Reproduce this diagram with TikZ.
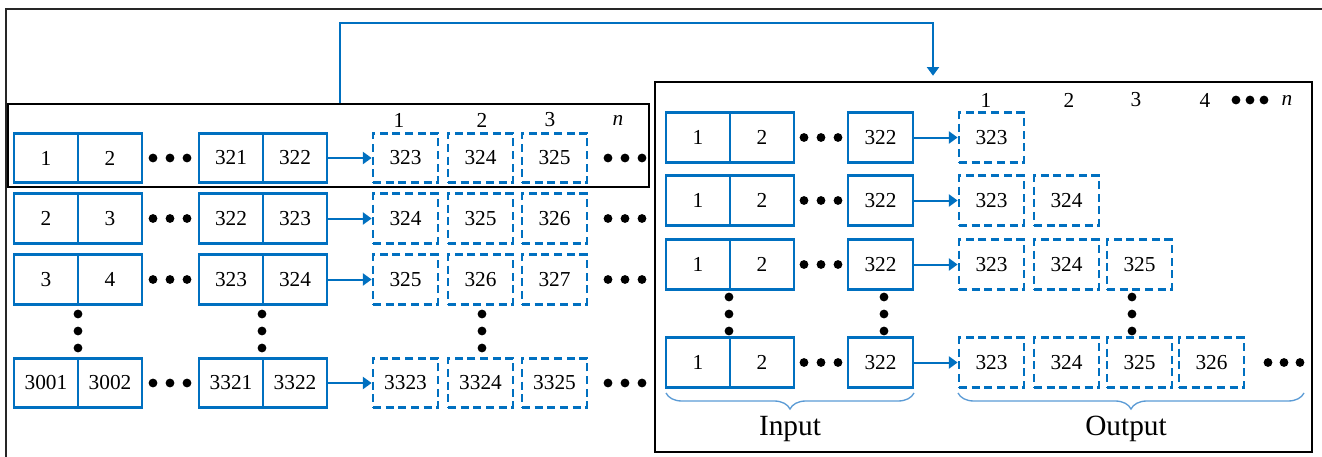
\documentclass[tikz,border=0pt]{standalone}
\usepackage{fontspec}
\setmainfont{Liberation Serif}
\usetikzlibrary{arrows.meta,decorations.pathreplacing}
\definecolor{boxblue}{RGB}{0,112,192}
\definecolor{bracelblue}{RGB}{91,155,213}
\begin{document}
\begin{tikzpicture}[x=0.75pt,y=-0.75pt,
  cell/.style={draw=boxblue,line width=2.1pt,minimum width=48pt,minimum height=37pt,
    inner sep=0pt,font=\fontsize{16}{16}\selectfont},
  fut/.style={cell,minimum width=48.75pt,dash pattern=on 6pt off 3.5pt},
  flow/.style={draw=boxblue,line width=1.5pt,-{Triangle[length=6.5pt,width=9pt]}},
  frame/.style={draw=black,line width=1.4pt,inner sep=0pt},
  hdr/.style={font=\fontsize{16}{16}\selectfont,inner sep=0pt},
  captext/.style={font=\fontsize{22}{22}\selectfont,inner sep=0pt,anchor=base},
  brc/.style={draw=bracelblue,line width=1pt,
    decorate,decoration={brace,mirror,amplitude=12pt}},
  dot/.style={fill=black}
]
\useasboundingbox (0,0) rectangle (1322,457);

% outer border
\draw[line width=1.4pt,black!85] (6,457) -- (6,9) -- (1322,9);

% ---------- sliding-window samples ----------
\node[frame,minimum width=480.75pt,minimum height=62.25pt] (lf) at (328.5,145.5) {};
\foreach \r/\y/\a/\b/\c/\d/\e/\f/\g in {
  1/158/1/2/321/322/323/324/325,
  2/218.5/2/3/322/323/324/325/326,
  3/279.5/3/4/323/324/325/326/327,
  4/383/3001/3002/3321/3322/3323/3324/3325}{
  \node[cell] (L\r-1) at (46,\y) {\a};
  \node[cell] (L\r-2) at (110,\y) {\b};
  \node[cell] (L\r-3) at (231,\y) {\c};
  \node[cell] (L\r-4) at (295,\y) {\d};
  \node[fut] (L\r-5) at (405.5,\y) {\e};
  \node[fut] (L\r-6) at (480.5,\y) {\f};
  \node[fut] (L\r-7) at (554.5,\y) {\g};
  \draw[flow] (L\r-4.east) -- (L\r-5.west);
  \foreach \x in {153,170,187,608,625,642}
    \fill[dot] (\x,\y) circle[radius=3.3pt];
}
\foreach \x in {78,262,482}
  \foreach \y in {314,331,348}
    \fill[dot] (\x,\y) circle[radius=3.3pt];
\node[hdr] (lh1) at (399,120) {1};
\node[hdr] (lh2) at (482,120) {2};
\node[hdr] (lh3) at (550,120) {3};
\node[hdr] (lhn) at (618,120) {\itshape n};

% ---------- multi-step prediction ----------
\node[frame,minimum width=492.75pt,minimum height=277.5pt] (rf) at (983.5,267) {};
\foreach \r/\y in {1/137.5,2/200.5,3/264.5,4/362.5}{
  \node[cell] (R\r-1) at (698,\y) {1};
  \node[cell] (R\r-2) at (762,\y) {2};
  \node[cell,minimum width=48.75pt] (R\r-3) at (880.5,\y) {322};
  \node[fut] (R\r-o1) at (991.5,\y) {323};
  \draw[flow] (R\r-3.east) -- (R\r-o1.west);
  \foreach \x in {804,821,838}
    \fill[dot] (\x,\y) circle[radius=3.3pt];
}
\node[fut] (R2-o2) at (1066.5,200.5) {324};
\node[fut] (R3-o2) at (1066.5,264.5) {324};
\node[fut] (R3-o3) at (1139.5,264.5) {325};
\node[fut] (R4-o2) at (1066.5,362.5) {324};
\node[fut] (R4-o3) at (1139.5,362.5) {325};
\node[fut] (R4-o4) at (1211.5,362.5) {326};
\foreach \x in {1268,1284,1300}
  \fill[dot] (\x,362.5) circle[radius=3.3pt];
\foreach \x in {729,884,1132}
  \foreach \y in {297,314,331}
    \fill[dot] (\x,\y) circle[radius=3.3pt];
\node[hdr] (rh1) at (986,100) {1};
\node[hdr] (rh2) at (1069,100) {2};
\node[hdr] (rh3) at (1136,100) {3};
\node[hdr] (rh4) at (1205,100) {4};
\foreach \x in {1236,1250,1264}
  \fill[dot] (\x,100) circle[radius=3.3pt];
\node[hdr] (rhn) at (1287,100) {\itshape n};

% braces and captions
\coordinate (inA) at (666,393);
\coordinate (inB) at (914,393);
\coordinate (outA) at (958,393);
\coordinate (outB) at (1304,393);
\draw[brc] (inA) -- (inB);
\draw[brc] (outA) -- (outB);
\node[captext] (incap) at (790,435) {Input};
\node[captext] (outcap) at (1126,435) {Output};

% link between the two panels
\coordinate (up) at (340,23);
\coordinate (dn) at (933,23);
\draw[flow,shorten >=4pt] (lf.north -| up) -- (up) -- (dn) -- (rf.north -| dn);
\end{tikzpicture}
\end{document}
